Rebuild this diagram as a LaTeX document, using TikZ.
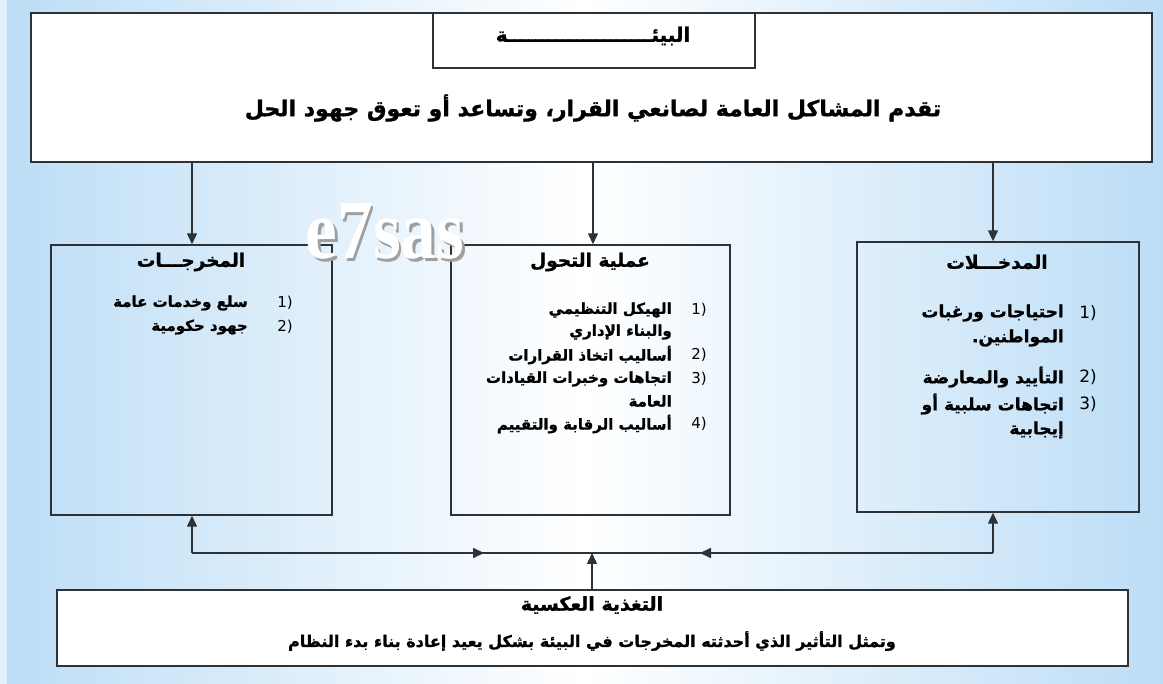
\documentclass[tikz,border=0pt]{standalone}
\usepackage{fontspec}
\usetikzlibrary{arrows.meta}
\TeXXeTstate=1
\newfontfamily\arfont[Script=Arabic, BoldFeatures={FakeBold=1.2}]{DejaVu Sans}
\newfontfamily\numfont{DejaVu Sans}
\newfontfamily\wmfont{Liberation Serif}
\newcommand\AR[1]{{\arfont\bfseries\beginR #1\endR}}
\definecolor{bgblue}{RGB}{188,221,246}
\definecolor{linec}{RGB}{45,50,55}
\tikzset{
  box/.style={draw=linec, line width=1.4pt, inner sep=0pt},
  arr/.style={draw=linec, line width=1.3pt, -{Triangle[length=11pt,width=10pt]}},
  ln/.style={draw=linec, line width=1.3pt},
  ttl/.style={font=\fontsize{18.5}{20}\selectfont, inner sep=0pt},
  itm/.style={font=\fontsize{15}{17}\selectfont, inner sep=0pt, anchor=east},
  num/.style={font=\fontsize{15}{17}\selectfont\numfont, inner sep=0pt},
}
\begin{document}
\begin{tikzpicture}[x=1pt,y=-1pt]
\useasboundingbox (0,0) rectangle (1163,684);
% background
\shade[left color=bgblue, right color=bgblue, middle color=white] (0,0) rectangle (1163,684);
\fill[white,opacity=0.6] (0,0) rectangle (7,684);
% top box
\node[box, fill=white, minimum width=1121pt, minimum height=149pt] (env) at (591.5,87.5) {};
\node[box, fill=white, minimum width=322pt, minimum height=55pt] (envt) at (594,40.5) {};
\node[ttl, font=\fontsize{20}{22}\selectfont] (envtt) at (593,36) {\AR{البيئـــــــــــــــــــــة}};
\node[inner sep=0pt, font=\fontsize{22}{24}\selectfont] (envm) at (593,108) {\AR{تقدم المشاكل العامة لصانعي القرار، وتساعد أو تعوق جهود الحل}};
% three boxes
\node[box, minimum width=281pt, minimum height=270pt] (out) at (191.5,380) {};
\node[box, minimum width=279pt, minimum height=270pt] (proc) at (590.5,380) {};
\node[box, minimum width=282pt, minimum height=270pt] (inp) at (998,377) {};
% watermark
\node[inner sep=0pt, text=gray!75, font=\fontsize{84}{84}\wmfont\bfseries, xscale=0.85] (wm0) at (387.5,234) {e7sas};
\node[inner sep=0pt, text=white, font=\fontsize{84}{84}\wmfont\bfseries, xscale=0.85] (wm) at (385,231) {e7sas};
% arrows from top
\coordinate (a1) at (192,162.5);
\coordinate (a2) at (593,162.5);
\coordinate (a3) at (993,162.5);
\draw[arr] (a1) -- (a1 |- out.north);
\draw[arr] (a2) -- (a2 |- proc.north);
\draw[arr] (a3) -- (a3 |- inp.north);
% outputs box text
\node[ttl] (outt) at (191,262) {\AR{المخرجـــات}};
\node[num] (o1n) at (285,303) {1)};
\node[itm] (o1) at (248,303) {\AR{سلع وخدمات عامة}};
\node[num] (o2n) at (285,327) {2)};
\node[itm] (o2) at (248,327) {\AR{جهود حكومية}};
% process box text
\node[ttl] (proct) at (590,262) {\AR{عملية التحول}};
\node[num] (p1n) at (699,310) {1)};
\node[itm] (p1) at (672,310) {\AR{الهيكل التنظيمي}};
\node[itm] (p1b) at (672,332) {\AR{والبناء الإداري}};
\node[num] (p2n) at (699,355) {2)};
\node[itm] (p2) at (672,355) {\AR{أساليب اتخاذ القرارات}};
\node[num] (p3n) at (699,379) {3)};
\node[itm] (p3) at (672,379) {\AR{اتجاهات وخبرات القيادات}};
\node[itm] (p3b) at (672,401) {\AR{العامة}};
\node[num] (p4n) at (699,424) {4)};
\node[itm] (p4) at (672,424) {\AR{أساليب الرقابة والتقييم}};
% inputs box text
\node[ttl] (inpt) at (997,262) {\AR{المدخـــلات}};
\node[num, font=\fontsize{17}{19}\selectfont\numfont] (i1n) at (1088,313) {1)};
\node[itm, font=\fontsize{17}{19}\selectfont] (i1) at (1064,313) {\AR{احتياجات ورغبات}};
\node[itm, font=\fontsize{17}{19}\selectfont] (i1b) at (1064,338) {\AR{المواطنين.}};
\node[num, font=\fontsize{17}{19}\selectfont\numfont] (i2n) at (1088,377) {2)};
\node[itm, font=\fontsize{17}{19}\selectfont] (i2) at (1064,377) {\AR{التأييد والمعارضة}};
\node[num, font=\fontsize{17}{19}\selectfont\numfont] (i3n) at (1088,404) {3)};
\node[itm, font=\fontsize{17}{19}\selectfont] (i3) at (1064,404) {\AR{اتجاهات سلبية أو}};
\node[itm, font=\fontsize{17}{19}\selectfont] (i3b) at (1064,430) {\AR{إيجابية}};
% bottom box
\node[box, fill=white, minimum width=1071pt, minimum height=76pt] (fb) at (592.5,628) {};
\node[ttl, font=\fontsize{19}{21}\selectfont] (fbt) at (592,605) {\AR{التغذية العكسية}};
\node[inner sep=0pt, font=\fontsize{16}{18}\selectfont] (fbm) at (592,641) {\AR{وتمثل التأثير الذي أحدثته المخرجات في البيئة بشكل يعيد إعادة بناء بدء النظام}};
% feedback connectors
\coordinate (fm) at (592,553);
\coordinate (fl) at (192,553);
\coordinate (fr) at (993,553);
\draw[arr] (fb.north -| fm) -- (fm);
\draw[ln] (fl) -- (fr);
\draw[arr] (fl) -- (fl |- out.south);
\draw[arr] (fr) -- (fr |- inp.south);
\coordinate (s1a) at (403,553);
\coordinate (s1b) at (484,553);
\coordinate (s2a) at (781,553);
\coordinate (s2b) at (700,553);
\draw[arr, line width=2.2pt] (s1a) -- (s1b);
\draw[arr, line width=2.2pt] (s2a) -- (s2b);
\end{tikzpicture}
\end{document}
